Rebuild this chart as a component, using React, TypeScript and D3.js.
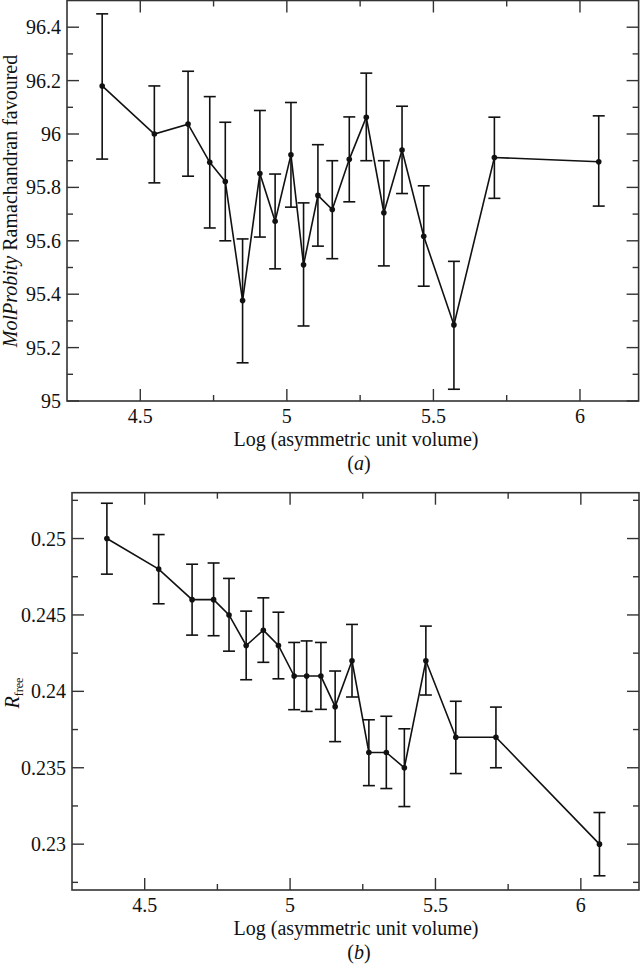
import React from "react";
import * as d3 from "d3";

// Shared bins: log(asymmetric unit volume)
const logVolume = [4.37, 4.548, 4.663, 4.737, 4.79, 4.849, 4.908, 4.96, 5.014, 5.057, 5.106, 5.155, 5.213, 5.271, 5.331, 5.393, 5.467, 5.57, 5.708, 6.064];

// Panel (a): MolProbity Ramachandran favoured
const ramaMean = [96.18, 96.0, 96.037, 95.894, 95.822, 95.376, 95.852, 95.673, 95.922, 95.51, 95.77, 95.717, 95.905, 96.063, 95.705, 95.94, 95.617, 95.285, 95.912, 95.896];
const ramaLow = [95.906, 95.817, 95.842, 95.648, 95.6, 95.143, 95.614, 95.495, 95.726, 95.281, 95.58, 95.533, 95.746, 95.9, 95.506, 95.777, 95.43, 95.044, 95.759, 95.73];
const ramaHigh = [96.45, 96.18, 96.235, 96.14, 96.044, 95.607, 96.088, 95.85, 96.118, 95.742, 95.96, 95.9, 96.064, 96.228, 95.9, 96.104, 95.806, 95.523, 96.063, 96.068];

// Panel (b): Rfree
const rfreeMean = [0.25, 0.248, 0.246, 0.246, 0.245, 0.243, 0.244, 0.243, 0.241, 0.241, 0.241, 0.239, 0.242, 0.236, 0.236, 0.235, 0.242, 0.237, 0.237, 0.23];
const rfreeLow = [0.24767, 0.24573, 0.24368, 0.24364, 0.24263, 0.24076, 0.2419, 0.24082, 0.2388, 0.23869, 0.23882, 0.23671, 0.23963, 0.23383, 0.23364, 0.23246, 0.23976, 0.23462, 0.235, 0.22793];
const rfreeHigh = [0.25231, 0.25026, 0.24832, 0.2484, 0.24739, 0.24525, 0.24612, 0.24518, 0.2432, 0.2433, 0.2432, 0.24133, 0.24438, 0.23814, 0.23837, 0.23755, 0.24427, 0.23935, 0.23897, 0.23207];

// Ticks
const xMajor = [4.5, 5, 5.5, 6];
const xMinor = [4.75, 5.25, 5.75];
const ramaMajor = [95, 95.2, 95.4, 95.6, 95.8, 96, 96.2, 96.4];
const ramaMinor = [95.1, 95.3, 95.5, 95.7, 95.9, 96.1, 96.3];
const rfreeMajor = [0.23, 0.235, 0.24, 0.245, 0.25];
const rfreeMinor = [0.2275, 0.2325, 0.2375, 0.2425, 0.2475, 0.2525];

const FONT = "'Liberation Serif', 'DejaVu Serif', 'Times New Roman', Times, serif";
const AXIS = "#333";
const INK = "#111";
const fmt = (v: number) => String(+v.toFixed(4));

type PanelProps = {
  left: number; right: number; top: number; bottom: number;
  xDomain: [number, number]; yDomain: [number, number];
  mean: number[]; low: number[]; high: number[];
  yMajor: number[]; yMinor: number[];
  yLabel: React.ReactNode;
  tag: string;
};

function Panel(p: PanelProps) {
  const x = d3.scaleLinear().domain(p.xDomain).range([p.left, p.right]);
  const y = d3.scaleLinear().domain(p.yDomain).range([p.bottom, p.top]);
  const line = d3.line<number>().x((_, i) => x(logVolume[i])).y((d) => y(d));
  const MAJ = 12, MIN = 6, CAP = 6;
  const midX = 356;
  const txt = { fontFamily: FONT, fontSize: 20, fill: INK } as const;
  return (
    <g>
      <rect x={p.left} y={p.top} width={p.right - p.left} height={p.bottom - p.top} fill="none" stroke={AXIS} strokeWidth={1.6} />
      {xMajor.map((v) => (
        <g key={"xM" + v}>
          <line x1={x(v)} x2={x(v)} y1={p.bottom} y2={p.bottom - MAJ} stroke={AXIS} strokeWidth={1.4} />
          <line x1={x(v)} x2={x(v)} y1={p.top} y2={p.top + MAJ} stroke={AXIS} strokeWidth={1.4} />
          <text x={x(v)} y={p.bottom + 22} textAnchor="middle" style={txt}>{fmt(v)}</text>
        </g>
      ))}
      {xMinor.map((v) => (
        <g key={"xm" + v}>
          <line x1={x(v)} x2={x(v)} y1={p.bottom} y2={p.bottom - MIN} stroke={AXIS} strokeWidth={1.4} />
          <line x1={x(v)} x2={x(v)} y1={p.top} y2={p.top + MIN} stroke={AXIS} strokeWidth={1.4} />
        </g>
      ))}
      {p.yMajor.map((v) => (
        <g key={"yM" + v}>
          <line x1={p.left} x2={p.left + MAJ} y1={y(v)} y2={y(v)} stroke={AXIS} strokeWidth={1.4} />
          <line x1={p.right} x2={p.right - MAJ} y1={y(v)} y2={y(v)} stroke={AXIS} strokeWidth={1.4} />
          <text x={p.left - 6} y={y(v)} dy="0.35em" textAnchor="end" style={txt}>{fmt(v)}</text>
        </g>
      ))}
      {p.yMinor.map((v) => (
        <g key={"ym" + v}>
          <line x1={p.left} x2={p.left + MIN} y1={y(v)} y2={y(v)} stroke={AXIS} strokeWidth={1.4} />
          <line x1={p.right} x2={p.right - MIN} y1={y(v)} y2={y(v)} stroke={AXIS} strokeWidth={1.4} />
        </g>
      ))}
      {p.mean.map((_, i) => {
        const cx = x(logVolume[i]);
        return (
          <g key={"e" + i} stroke={INK} strokeWidth={1.6}>
            <line x1={cx} x2={cx} y1={y(p.low[i])} y2={y(p.high[i])} />
            <line x1={cx - CAP} x2={cx + CAP} y1={y(p.low[i])} y2={y(p.low[i])} />
            <line x1={cx - CAP} x2={cx + CAP} y1={y(p.high[i])} y2={y(p.high[i])} />
          </g>
        );
      })}
      <path d={line(p.mean) || ""} fill="none" stroke={INK} strokeWidth={1.6} />
      {p.mean.map((v, i) => (
        <circle key={"c" + i} cx={x(logVolume[i])} cy={y(v)} r={2.8} fill={INK} />
      ))}
      <text x={midX} y={p.bottom + 45} textAnchor="middle" style={txt}>Log (asymmetric unit volume)</text>
      <text x={midX + 3} y={p.bottom + 69} textAnchor="middle" style={txt}>
        (<tspan fontStyle="italic">{p.tag}</tspan>)
      </text>
      {p.yLabel}
    </g>
  );
}

export default function App() {
  const txt = { fontFamily: FONT, fontSize: 20, fill: INK } as const;
  return (
    <svg width={640} height={966} style={{ position: "absolute", left: 0, top: 0, background: "#fff" }}>
      <rect width={640} height={966} fill="#fff" />
      <Panel
        left={67} right={638.6} top={0.5} bottom={401}
        xDomain={[4.25, 6.2]} yDomain={[95, 96.5]}
        mean={ramaMean} low={ramaLow} high={ramaHigh}
        yMajor={ramaMajor} yMinor={ramaMinor}
        tag="a"
        yLabel={
          <text transform="translate(17,201) rotate(-90)" textAnchor="middle" style={txt}>
            <tspan fontStyle="italic">MolProbity</tspan> Ramachandran favoured
          </text>
        }
      />
      <Panel
        left={72} right={639} top={492.7} bottom={890}
        xDomain={[4.25, 6.2]} yDomain={[0.227, 0.253]}
        mean={rfreeMean} low={rfreeLow} high={rfreeHigh}
        yMajor={rfreeMajor} yMinor={rfreeMinor}
        tag="b"
        yLabel={
          <text transform="translate(19,693) rotate(-90)" textAnchor="middle" style={txt}>
            <tspan fontStyle="italic">R</tspan>
            <tspan fontSize={12} dy={4}>free</tspan>
          </text>
        }
      />
    </svg>
  );
}
